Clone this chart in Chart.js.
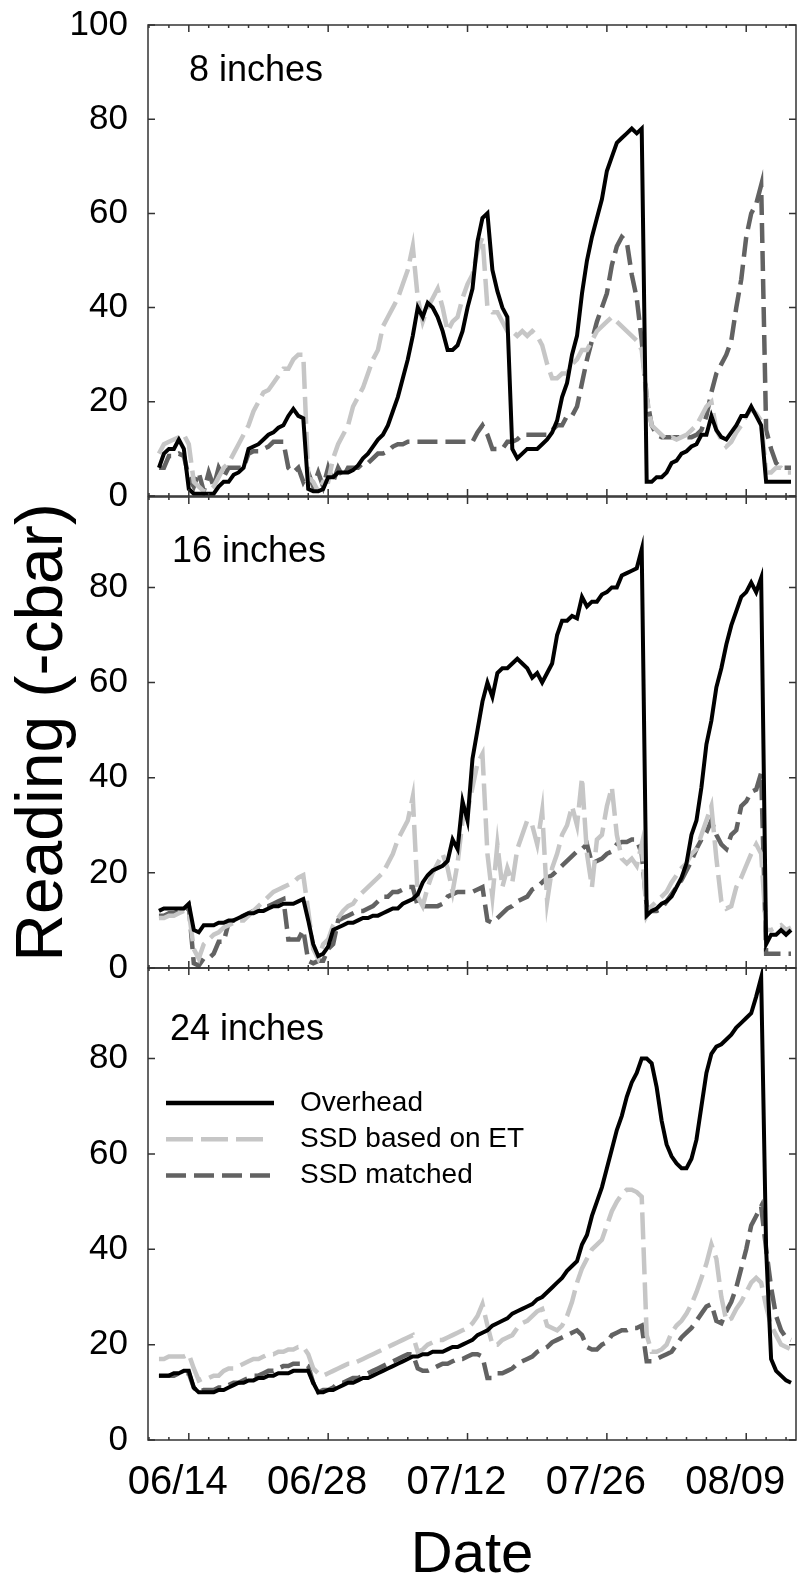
<!DOCTYPE html>
<html>
<head>
<meta charset="utf-8">
<script src="https://cdn.jsdelivr.net/npm/chart.js@4.4.1/dist/chart.umd.min.js"></script>
<style>
  html, body { margin: 0; padding: 0; background: #fff; }
  #wrap { position: relative; width: 801px; height: 1585px; overflow: hidden; background: #fff; }
  canvas { position: absolute; left: 0; }
</style>
</head>
<body>
<div id="wrap">
  <canvas id="p8" width="801" height="530" style="top:0px"></canvas>
  <canvas id="p16" width="801" height="540" style="top:460px"></canvas>
  <canvas id="p24" width="801" height="655" style="top:930px"></canvas>
</div>
<script>
// days counted from 06/14
const days = [-3, -2.5, -2, -1.5, -1, -0.5, 0, 0.5, 1, 1.5, 2, 2.5, 3, 3.5, 4, 4.5, 5, 5.5, 6, 6.5,
  7, 7.5, 8, 8.5, 9, 9.5, 10, 10.5, 11, 11.5, 12, 12.5, 13, 13.5, 14, 14.5, 15, 15.5, 16, 16.5,
  17, 17.5, 18, 18.5, 19, 19.5, 20, 20.5, 21, 21.5, 22, 22.5, 23, 23.5, 24, 24.5, 25, 25.5, 26, 26.5,
  27, 27.5, 28, 28.5, 29, 29.5, 30, 30.5, 31, 31.5, 32, 32.5, 33, 33.5, 34, 34.5, 35, 35.5, 36, 36.5,
  37, 37.5, 38, 38.5, 39, 39.5, 40, 40.5, 41, 41.5, 42, 42.5, 43, 43.5, 44, 44.5, 45, 45.5, 46, 46.5,
  47, 47.5, 48, 48.5, 49, 49.5, 50, 50.5, 51, 51.5, 52, 52.5, 53, 53.5, 54, 54.5, 55, 55.5, 56, 56.5,
  57, 57.5, 58, 58.5, 59, 59.5, 60, 60.5];

const tickDays = [0, 14, 28, 42, 56];
const tickLabels = ['06/14', '06/28', '07/12', '07/26', '08/09'];
const seriesNames = ['Overhead', 'SSD based on ET', 'SSD matched'];
const panelNames = ['8 inches', '16 inches', '24 inches'];

// 8 inches
const overhead8 = [6, 9, 10, 10, 12, 10, 1.5, 0.5, 0.5, 0.5,
  0.5, 0.5, 2, 3, 3, 4.5, 5, 6, 10, 10.5,
  11, 12, 13, 13.5, 14.5, 15, 17, 18.5, 17, 16.5,
  1.5, 1, 1, 1.5, 4, 4, 5, 5, 5, 5.5,
  6.5, 8, 9, 10.5, 12, 13, 15, 18, 21, 25,
  29, 34, 40, 38, 41, 40, 38, 35, 31, 31,
  32, 35, 40, 44, 54, 59, 60, 48, 43.5, 40,
  38, 10, 8, 9, 10, 10, 10, 11, 12, 13.5,
  16, 21, 24, 30, 34, 43, 50, 55, 59, 63,
  69, 72, 75, 76, 77, 78, 77, 78, 3, 3,
  4, 4, 5, 7, 7.5, 9, 9.5, 10.5, 11, 13,
  13, 17, 14, 12.5, 12, 13.5, 15, 17, 17, 19,
  17, 15, 3, 3, 3, 3, 3, 3];
const et8 = [9, 11, 11.5, 12, 12.5, 13, 11, 3, 2, 1,
  1, 2, 4, 6, 7, 9, 11, 13, 15, 18,
  20, 22, 22.5, 24, 25.5, 27, 27, 29, 30, 30,
  4, 3, 1, 3, 3, 8, 11, 13, 15, 19,
  21, 23, 26, 29, 31, 36, 38, 40, 42, 45,
  48, 53, 42, 37, 40, 42, 44, 40, 35, 37,
  38, 42, 45, 47, 52, 55, 40, 39, 39, 37,
  35, 35, 34, 35, 34, 35, 34, 32, 28, 25,
  25, 26, 26, 28, 29, 31, 31, 33, 35, 36,
  37, 38, 37, 36, 35, 34, 33, 31, 21, 15,
  14, 13, 12, 12.5, 12, 12.5, 13, 14, 15, 17,
  19, 20, 14, 12, 10.5, 11.5, 13.5, 15, 17, 18.5,
  17.5, 16, 5, 5, 6, 6, 5, 5];
const matched8 = [6, 6, 8.5, 8.5, 9, 8.5, 4, 2, 5, 1,
  5, 2, 6, 4, 6, 6, 6, 6, 9, 9.5,
  9.5, 10, 10.5, 11.5, 11.5, 11.5, 6, 5, 6, 3,
  5, 2, 5, 2, 6, 3, 6, 4, 6, 6,
  6, 7, 7, 8, 9, 9, 9.5, 10.5, 11, 11,
  11.5, 11.5, 11.5, 11.5, 11.5, 11.5, 11.5, 11.5, 11.5, 11.5,
  11.5, 11.5, 11.5, 11.5, 13.5, 15, 13, 10, 10, 10,
  11.5, 11.5, 12, 13, 13, 13, 13, 13, 13, 14,
  15, 15, 17, 17, 19, 24, 29, 33, 37, 40,
  43, 49, 53, 55, 54, 47, 42, 33, 21, 15,
  13, 12.5, 12.5, 12.5, 12.5, 12.5, 12.5, 12.5, 13, 14,
  17, 22, 26, 28, 30, 33, 40, 46, 55, 60,
  62, 66, 14, 10, 7, 6, 6, 6];

// 16 inches
const overhead16 = [12, 12.5, 12.5, 12.5, 12.5, 12.5, 13.5, 8, 7.5, 9,
  9, 9, 9.5, 9.5, 10, 10, 10.5, 11, 11.5, 11.5,
  12, 12, 12.5, 13, 13, 13.5, 13.5, 13.5, 14, 14.5,
  10, 5, 2.5, 3, 4.5, 8, 8.5, 9, 9.5, 9.5,
  10, 10.5, 10.5, 11, 11, 11.5, 12, 12.5, 12.5, 13.5,
  14, 14.5, 15.5, 18, 19.5, 20.5, 21, 21.5, 22.5, 27,
  25, 35, 31, 44, 50, 56, 60, 57, 62, 63,
  63, 64, 65, 64, 63, 61, 62, 60, 62, 64,
  70, 73, 73, 74, 73.5, 78, 76, 77, 77, 78.5,
  79, 80, 80, 82.5, 83, 83.5, 84, 88, 11, 12,
  12.5, 13.5, 14, 15, 17, 19, 22, 28, 31, 38,
  47, 52, 59, 63, 68, 72, 75, 78, 79, 81,
  79, 82, 5, 7, 7, 8, 7, 8];
const et16 = [10.5, 10.5, 11, 11, 11.5, 12, 12, 4, 2, 5,
  6, 7, 7.5, 8.5, 9, 9.5, 10, 10, 11, 12,
  13, 14, 15, 16, 16.5, 17, 17.5, 18, 19, 19.5,
  12, 4, 2, 5, 6, 9, 10.5, 12, 13, 13.5,
  15, 16, 17, 18, 19, 20, 22, 24, 27, 29,
  31, 36, 15, 13, 17, 20, 22, 24, 21, 16,
  22, 31, 33, 38, 43, 45, 24, 15, 26, 17,
  21, 18, 25, 28, 31, 30, 26, 33, 14, 21,
  24, 28, 30, 34, 30, 40, 24, 17, 27, 28,
  34, 38, 28, 23, 22, 23, 21.5, 26, 11, 13,
  14, 15, 16, 18, 19.5, 21, 22, 24, 25, 28,
  31, 34, 23, 14, 12.5, 13, 17, 19, 21.5, 24,
  26, 24, 8, 8, 8.5, 9, 8, 8.5];
const matched16 = [11, 11, 11.5, 11.5, 12, 12, 13, 1, 0.5, 2,
  2, 3, 5.5, 5.5, 9.5, 10, 10.5, 11, 11.5, 12,
  12.5, 13, 13, 13.5, 14, 14.5, 6, 6, 6, 8,
  1.5, 1, 1.5, 1.5, 4, 5, 10, 10.5, 11, 11.5,
  12, 12, 12.5, 13, 14, 15, 15, 16, 16, 16.5,
  17, 17, 13, 13, 13, 13, 13, 13.5, 15, 15.5,
  16, 16, 16, 16, 16.5, 17, 10, 9.5, 10.5, 11.5,
  12.5, 13, 14, 14.5, 15, 16.5, 17, 18, 19, 19.5,
  20.5, 21.5, 22.5, 23.5, 24.5, 25, 26, 22, 22.5, 23,
  24, 24.5, 26, 26.5, 26.5, 27, 27, 24, 13, 12,
  12, 12.5, 14, 15.5, 17, 18.5, 20.5, 22.5, 25, 27,
  28.5, 31, 28, 26, 25, 28, 29, 34, 35, 37,
  37.5, 41, 3, 3, 3, 3, 3, 3];

// 24 inches
const overhead24 = [13.5, 13.5, 13.5, 14, 14, 14.5, 14.5, 11, 10, 10,
  10, 10, 10.5, 10.5, 11, 11.5, 12, 12, 12.5, 12.5,
  13, 13, 13.5, 13.5, 14, 14, 14, 14.5, 14.5, 14.5,
  14.5, 12, 10, 10, 10.5, 10.5, 11, 11.5, 12, 12,
  12.5, 13, 13, 13.5, 14, 14.5, 15, 15.5, 16, 16.5,
  17, 17.5, 17.5, 18, 18, 18.5, 18.5, 18.5, 19, 19.5,
  19.5, 20, 20.5, 21, 22, 22.5, 23, 24, 24.5, 25,
  25.5, 26.5, 27, 27.5, 28, 28.5, 29.5, 30, 31, 32,
  33, 34, 35.5, 36.5, 37.5, 41, 43, 47, 50, 53,
  57, 61, 65, 68, 72, 75, 77, 80, 80, 79,
  74, 67, 62, 59.5, 58, 57, 57, 59, 63, 70,
  77, 81, 82.5, 83, 84, 85, 86.5, 87.5, 88.5, 89.5,
  93, 97, 40, 17, 14.5, 13.5, 12.5, 12];
const et24 = [17, 17, 17.5, 17.5, 17.5, 17.5, 18, 15, 12.5, 13,
  13, 13.5, 13.5, 14.5, 15, 15, 15.5, 16, 16.5, 17,
  17, 17.5, 18, 18, 18.5, 18.5, 19, 19, 19.5, 19.5,
  18, 15, 14, 13.5, 14, 14.5, 15, 15.5, 16, 16,
  16.5, 17, 17.5, 18, 18.5, 19, 19.5, 20, 20.5, 21,
  21.5, 22, 18.5, 19, 20, 20.5, 21, 21, 21.5, 22,
  22.5, 23, 23.5, 24.5, 26, 28.5, 24, 20, 20, 21,
  21.5, 22, 23.5, 24.5, 25, 26, 27, 27.5, 24, 23.5,
  23, 24, 26, 29, 33, 36, 38, 40, 41, 42,
  45, 48, 50, 51.5, 52.5, 52.5, 52, 51, 22, 18.5,
  18.5, 19, 20, 22.5, 24, 25, 26.5, 28.5, 31, 34,
  37, 41, 38, 30, 25, 25.5, 27.5, 29, 31, 33,
  34, 33, 28, 24, 22, 20, 19.5, 19];
const matched24 = [13.5, 13.5, 13.5, 13.5, 14, 14, 14, 11, 10, 10.5,
  10.5, 10.5, 11, 11, 11.5, 12, 12, 12.5, 13, 13.5,
  13.5, 14, 14.5, 14.5, 15, 15.5, 15.5, 16, 16, 16,
  15.5, 12, 10, 10.5, 10.5, 11, 12, 12, 12.5, 13,
  13, 13.5, 14, 14.5, 15, 15.5, 16, 16.5, 17, 17.5,
  18, 18, 15, 14.5, 14.5, 15, 15.5, 16, 16, 16.5,
  17, 17, 17.5, 18, 18, 17.5, 13, 13, 14, 14,
  14.5, 15, 16, 16.5, 17, 17.5, 18.5, 19, 19.5, 20.5,
  21, 21.5, 22, 22.5, 23, 22, 19.5, 19, 19, 20,
  20.5, 22, 22.5, 23, 23, 23.5, 23.5, 24, 16.5, 16.5,
  17, 17.5, 18, 18.5, 20, 21.5, 22.5, 23.5, 25, 26.5,
  28, 28.5, 25, 24.5, 27, 29, 32, 36, 40, 45,
  47, 49, 40, 32, 26, 23, 21.5, 21];

const FONT = '"Liberation Sans", Arial, Helvetica, sans-serif';
Chart.defaults.font.family = FONT;
Chart.defaults.color = '#000';

const lineStyles = [
  {color: '#000000', dash: [], width: 4, legendLen: 108},
  {color: '#c6c6c6', dash: [27, 8], width: 4.5, legendLen: 97},
  {color: '#626262', dash: [20, 8], width: 4.5, legendLen: 104},
];

// frame with inward ticks on all four sides
const frameTicks = {
  id: 'frameTicks',
  afterDatasetsDraw(chart) {
    const {ctx, chartArea: a, scales: {x, y}} = chart;
    ctx.save();
    ctx.strokeStyle = '#333';
    ctx.lineWidth = 1.5;
    ctx.setLineDash([]);
    ctx.strokeRect(a.left, a.top, a.right - a.left, a.bottom - a.top);
    ctx.beginPath();
    y.ticks.forEach(t => {
      const py = y.getPixelForValue(t.value);
      ctx.moveTo(a.left, py); ctx.lineTo(a.left + 7, py);
      ctx.moveTo(a.right, py); ctx.lineTo(a.right - 7, py);
    });
    for (let d = -4; d <= 61; d += 2) {
      const px = x.getPixelForValue(d);
      if (px <= a.left || px >= a.right) continue;
      const len = tickDays.includes(d) ? 7 : 3;
      ctx.moveTo(px, a.bottom); ctx.lineTo(px, a.bottom - len);
      ctx.moveTo(px, a.top); ctx.lineTo(px, a.top + len);
    }
    ctx.stroke();
    ctx.restore();
  }
};

// depth label and (bottom panel) legend
const panelText = {
  id: 'panelText',
  afterDraw(chart, args, o) {
    const {ctx, chartArea: a} = chart;
    ctx.save();
    ctx.fillStyle = '#000';
    ctx.textBaseline = 'middle';
    ctx.textAlign = 'left';
    ctx.font = '36px ' + FONT;
    ctx.fillText(o.label, o.labelX, a.top + o.labelY);
    if (o.legend) {
      chart.data.datasets.forEach((ds, i) => {
        const ly = a.top + o.legendTop + i * o.legendGap;
        ctx.beginPath();
        ctx.setLineDash(ds.borderDash);
        ctx.strokeStyle = ds.borderColor;
        ctx.lineWidth = 4.5;
        ctx.moveTo(o.legendX, ly);
        ctx.lineTo(o.legendX + lineStyles[i].legendLen, ly);
        ctx.stroke();
        ctx.setLineDash([]);
        ctx.font = '28px ' + FONT;
        ctx.fillText(ds.label, o.legendTextX, ly);
      });
    }
    ctx.restore();
  }
};

function makePanel(id, series, o) {
  const datasets = series.map((vals, i) => ({
    label: seriesNames[i],
    data: vals.map((v, j) => ({x: days[j], y: v})),
    borderColor: lineStyles[i].color,
    borderDash: lineStyles[i].dash,
    borderWidth: lineStyles[i].width,
    pointRadius: 0,
    tension: 0,
  }));
  return new Chart(document.getElementById(id), {
    type: 'line',
    data: {datasets},
    options: {
      responsive: false,
      animation: false,
      events: [],
      layout: {padding: {top: o.padTop, bottom: o.padBottom, left: 0, right: 5}},
      scales: {
        x: {
          type: 'linear',
          min: -4.1,
          max: 61,
          display: o.showX,
          grid: {display: false, drawTicks: false},
          border: {display: false},
          ticks: {
            stepSize: 14,
            includeBounds: false,
            autoSkip: false,
            maxRotation: 0,
            padding: 19,
            labelOffset: -11,
            font: {size: 40},
            callback: v => tickLabels[tickDays.indexOf(v)] ?? '',
          },
          title: {
            display: o.showX,
            text: 'Date',
            font: {size: 58, lineHeight: 1},
            padding: {top: 0, bottom: 0},
          },
          afterFit: s => { s.height = o.showX ? 145 : 0; s.paddingLeft = 0; s.paddingRight = 0; },
        },
        y: {
          min: 0,
          max: o.yMax,
          grid: {display: false, drawTicks: false},
          border: {display: false},
          ticks: {stepSize: 20, includeBounds: false, padding: 20, font: {size: 35}},
          title: {
            display: !!o.yTitle,
            text: o.yTitle || '',
            font: {size: 66, lineHeight: 1},
            padding: {top: 11, bottom: 0},
          },
          afterFit: s => { s.width = 148; s.paddingTop = 0; s.paddingBottom = 0; },
        }
      },
      plugins: {
        legend: {display: false},
        tooltip: {enabled: false},
        panelText: o.text,
      }
    },
    plugins: [frameTicks, panelText]
  });
}

makePanel('p8', [overhead8, et8, matched8], {
  padTop: 25, padBottom: 34, yMax: 100, showX: false,
  text: {label: panelNames[0], labelX: 189, labelY: 46},
});
makePanel('p16', [overhead16, et16, matched16], {
  padTop: 37, padBottom: 32, yMax: 99, showX: false, yTitle: 'Reading (-cbar)',
  text: {label: panelNames[1], labelX: 172, labelY: 55},
});
makePanel('p24', [overhead24, et24, matched24], {
  padTop: 38, padBottom: 0, yMax: 99, showX: true,
  text: {label: panelNames[2], labelX: 170, labelY: 62, legend: true,
    legendX: 166, legendTextX: 300, legendTop: 135, legendGap: 36.3},
});
</script>
</body>
</html>
